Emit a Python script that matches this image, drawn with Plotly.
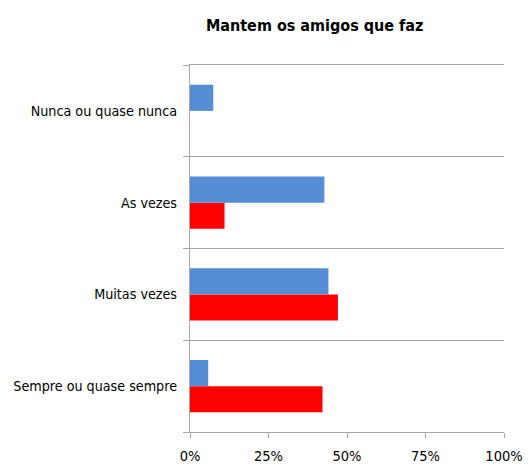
import plotly.graph_objects as go

categories = ["Sempre ou quase sempre", "Muitas vezes", "As vezes", "Nunca ou quase nunca"]
red_values = [42.2, 47.1, 11.0, 0.0]
blue_values = [5.8, 44.1, 42.8, 7.4]
x_ticks = [0, 25, 50, 75, 100]
x_tick_labels = ["0%", "25%", "50%", "75%", "100%"]

FONT = "DejaVu Sans Condensed, Liberation Sans Narrow, sans-serif"

fig = go.Figure()
fig.add_trace(go.Bar(y=categories, x=red_values, orientation="h",
                     marker=dict(color="#FF0000", line=dict(width=0)), name="red"))
fig.add_trace(go.Bar(y=categories, x=blue_values, orientation="h",
                     marker=dict(color="#558ED5", line=dict(width=0)), name="blue"))

fig.update_layout(
    width=528, height=469,
    margin=dict(l=190, r=24, t=65, b=37),
    paper_bgcolor="white", plot_bgcolor="white",
    barmode="group", bargap=0.43, bargroupgap=0,
    showlegend=False,
    font=dict(family=FONT, size=14, color="#000000"),
    title=dict(text="<b>Mantem os amigos que faz</b>", x=0.596, xanchor="center",
               y=1 - 25 / 469, yanchor="middle",
               font=dict(family=FONT, size=16, color="#000000")),
)
fig.update_xaxes(range=[0, 100], tickvals=x_ticks, ticktext=x_tick_labels,
                 showgrid=False, zeroline=False, automargin=False,
                 showline=True, mirror=True, linecolor="#A6A6A6", linewidth=1.3,
                 ticks="outside", ticklen=5, tickcolor="#A6A6A6",
                 ticklabelstandoff=5,
                 tickfont=dict(family=FONT, size=14.5))
fig.update_yaxes(type="category", categoryorder="array", categoryarray=categories,
                 tickson="boundaries", showgrid=True, gridcolor="#A6A6A6", gridwidth=1.3,
                 showline=True, linecolor="#A6A6A6", linewidth=1.3, automargin=False,
                 ticks="outside", ticklen=6, tickcolor="#A6A6A6",
                 ticklabelstandoff=9,
                 tickfont=dict(family=FONT, size=14.2))

fig.write_html("out.html", config={"displayModeBar": False},
               post_script="document.body.style.margin='0';")
